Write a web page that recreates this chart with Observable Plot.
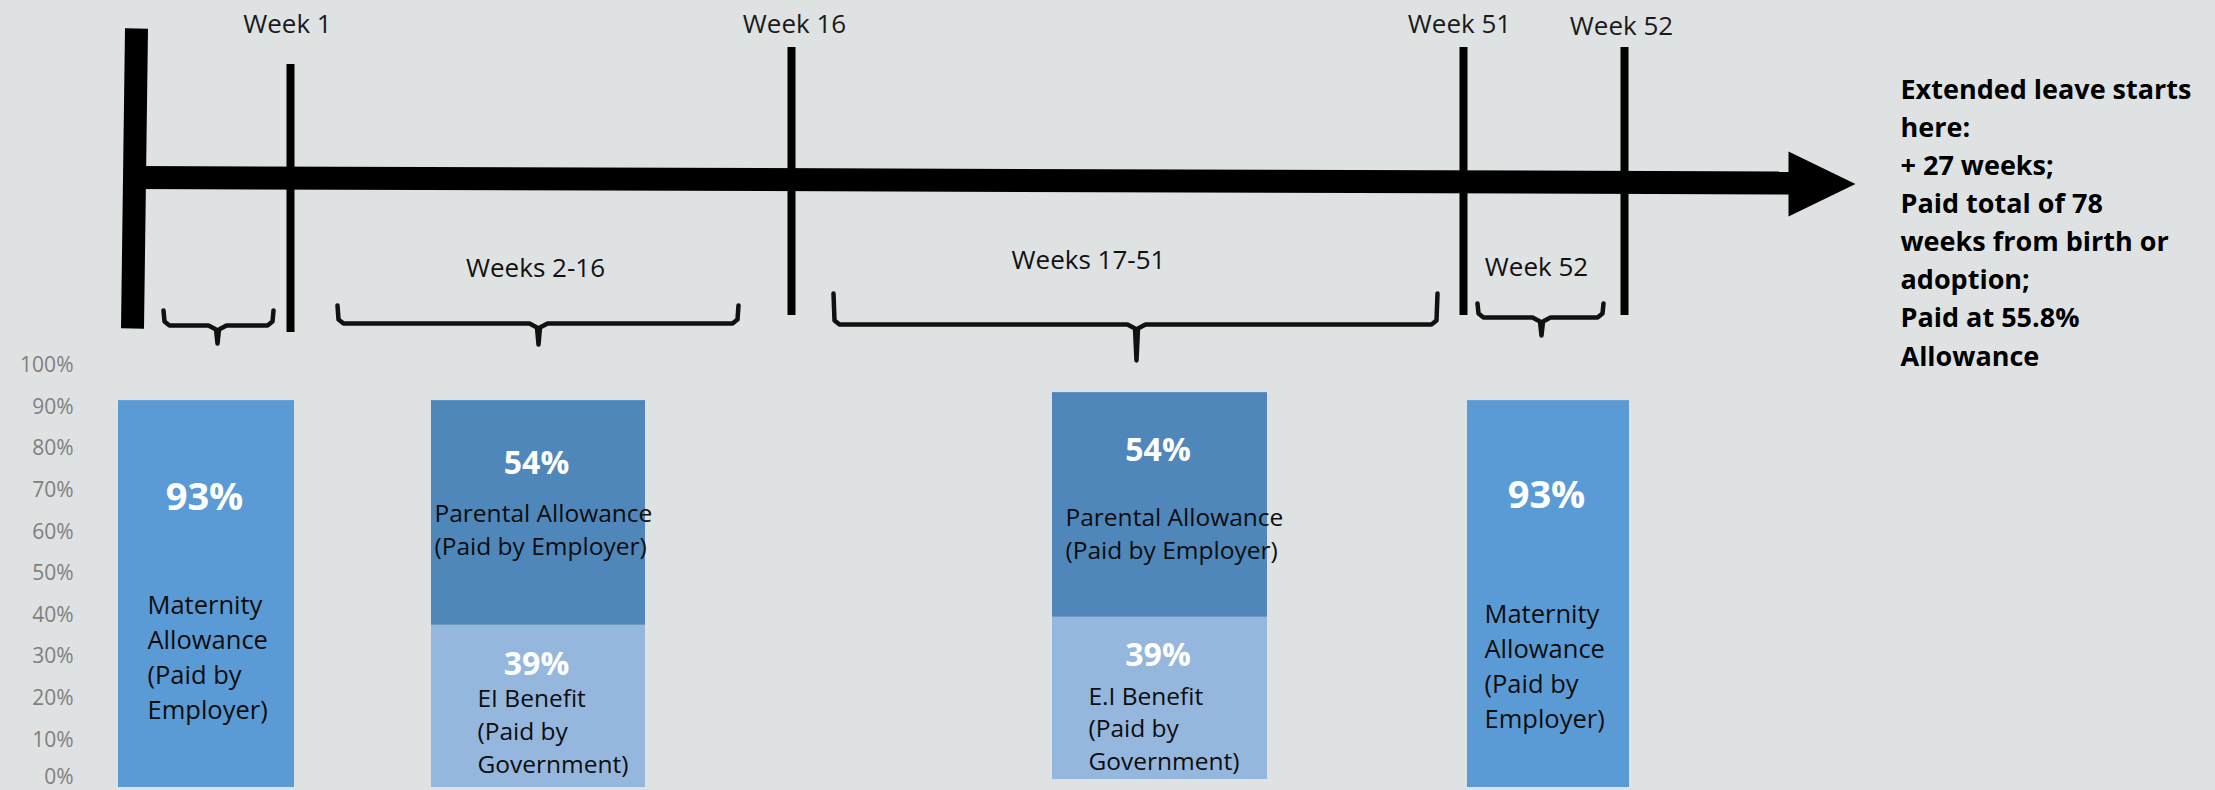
<!DOCTYPE html>
<html>
<head>
<meta charset="utf-8">
<script src="https://cdn.jsdelivr.net/npm/d3@7"></script>
<script src="https://cdn.jsdelivr.net/npm/@observablehq/plot@0.6"></script>
<style>
  html, body { margin: 0; padding: 0; background: #dfe2e3; }
  #chart { position: relative; width: 2215px; height: 790px; overflow: hidden; background: #dfe2e3; }
  #chart svg { position: absolute; left: 0; top: 0; background: transparent; font-family: "Open Sans", sans-serif; }
</style>
</head>
<body>
<div id="chart"></div>
<script>
// ---------------- DATA ----------------
const periods = ["Week 1", "Weeks 2-16", "Weeks 17-51", "Week 52"];
const employerKind = ["Maternity Allowance", "Parental Allowance", "Parental Allowance", "Maternity Allowance"];
const employerPct = [93, 54, 54, 93];
const governmentPct = [0, 39, 39, 0];
const employerText = [
  "Maternity\nAllowance\n(Paid by\nEmployer)",
  "Parental Allowance\n(Paid by Employer)",
  "Parental Allowance\n(Paid by Employer)",
  "Maternity\nAllowance\n(Paid by\nEmployer)"
];
const governmentText = ["", "EI Benefit\n(Paid by\nGovernment)", "E.I Benefit\n(Paid by\nGovernment)", ""];
const periodLabels = ["", "Weeks 2-16", "Weeks 17-51", "Week 52"];
const weekMarkers = ["Week 1", "Week 16", "Week 51", "Week 52"];
const yTickValues = [0, 10, 20, 30, 40, 50, 60, 70, 80, 90, 100];
const extendedNote = [
  "Extended leave starts", "here:", "+ 27 weeks;", "Paid total of 78",
  "weeks from birth or", "adoption;", "Paid at 55.8%", "Allowance"
];

// ---------------- LAYOUT (pixels / fractions) ----------------
const W = 2215, H = 790;
const kinds = ["Maternity Allowance", "Parental Allowance", "EI Benefit"];
const kindColors = ["#5b9bd5", "#4f87ba", "#95b7de"];
const barSpan = [[118, 294], [431, 645], [1052, 1267], [1467, 1629]];
const barLift = [0, 0, 8, 0];
const empValueFrac = [0.75, 0.72, 0.743, 0.755];
const govValueFrac = [0, 0.759, 0.764, 0];
const empTextFrac = [0.178, 0.311, 0.261, 0.153];
const govTextFrac = [0, 0.087, 0.056, 0];
const empTextDx = [29, 3, 13, 17];
const govTextDx = [0, 46, 36, 0];

const markerX = [290, 791, 1463, 1624];
const markerTop = [64, 47, 47, 47];
const markerBottom = [332, 315, 315, 315];
const markerLabelX = [287, 794, 1459, 1621];
const markerLabelBase = [32, 32, 32, 34];
const braceSpan = [[163, 273], [337, 738], [833, 1437], [1477, 1603]];
const braceTip = [217, 538, 1136, 1541];
const braceTop = [310, 305, 293, 303];
const braceLine = [325, 323, 324, 317];
const braceBottom = [343, 344, 360, 335];
const periodLabelX = [0, 535, 1088, 1536];
const periodLabelBase = [0, 276, 268, 275];

const chart = document.getElementById("chart");

// ---------------- TIMELINE DIAGRAM ----------------
const shaft = [{x: 135, y: 177}, {x: 1800, y: 182.5}];
const startBar = [{x: 136, y: 28}, {x: 132, y: 328}];
const arrowHead = [{x: 1788, y: 151}, {x: 1855, y: 183.5}, {x: 1788, y: 216}];

const braces = [];
braceSpan.forEach(([x0, x1], i) => {
  const t = braceTop[i], l = braceLine[i], b = braceBottom[i], c = braceTip[i];
  const pts = [[x0, t], [x0 + 1, l - 4], [x0 + 6, l], [c - 9, l], [c - 1.5, l + 4], [c, b],
               [c + 1.5, l + 4], [c + 9, l], [x1 - 6, l], [x1 - 1, l - 4], [x1, t]];
  pts.forEach(([x, y]) => braces.push({brace: periods[i], x, y}));
});

const markers = weekMarkers.map((m, i) => ({m, i}));
const periodRows = periods.map((p, i) => ({p, i})).filter(d => periodLabels[d.i]);

const diagram = Plot.plot({
  width: W, height: H,
  margin: 0,
  style: {background: "transparent", fontFamily: "'Open Sans', sans-serif"},
  x: {domain: [0, W], range: [0, W], axis: null},
  y: {domain: [0, H], range: [0, H], axis: null},
  marks: [
    Plot.line(shaft, {x: "x", y: "y", stroke: "#000", strokeWidth: 23, strokeLinecap: "butt"}),
    Plot.line(arrowHead, {x: "x", y: "y", fill: "#000", stroke: "none"}),
    Plot.line(startBar, {x: "x", y: "y", stroke: "#000", strokeWidth: 23, strokeLinecap: "butt"}),
    Plot.ruleX(markers, {x: d => markerX[d.i], y1: d => markerTop[d.i], y2: d => markerBottom[d.i], stroke: "#000", strokeWidth: 8}),
    Plot.text(markers, {x: d => markerLabelX[d.i], y: d => markerLabelBase[d.i], text: "m", lineAnchor: "bottom", fontSize: 26, fill: "#1a1a1a"}),
    Plot.line(braces, {x: "x", y: "y", z: "brace", stroke: "#111", strokeWidth: 4.5, strokeLinejoin: "round", strokeLinecap: "round"}),
    Plot.text(periodRows, {x: d => periodLabelX[d.i], y: d => periodLabelBase[d.i], text: d => periodLabels[d.i], lineAnchor: "bottom", fontSize: 26, fill: "#111"}),
    Plot.text([extendedNote.join("\n")], {x: 1900, y: 365, text: d => d, textAnchor: "start", lineAnchor: "bottom", lineHeight: 1.41, fontSize: 27, fontWeight: "bold", fill: "#000"})
  ]
});
chart.appendChild(diagram);

// ---------------- BAR CHART ----------------
const segments = [];
periods.forEach((p, i) => {
  if (governmentPct[i] > 0) {
    segments.push({i, period: p, kind: "EI Benefit", y1: 0, y2: governmentPct[i], value: governmentPct[i],
      text: governmentText[i], valueFrac: govValueFrac[i], textFrac: govTextFrac[i], textDx: govTextDx[i]});
  }
  segments.push({i, period: p, kind: employerKind[i], y1: governmentPct[i], y2: governmentPct[i] + employerPct[i], value: employerPct[i],
    text: employerText[i], valueFrac: empValueFrac[i], textFrac: empTextFrac[i], textDx: empTextDx[i]});
});

const barMarks = [];
segments.forEach(s => {
  const lift = -barLift[s.i];
  const big = s.kind === "Maternity Allowance";
  barMarks.push(
    Plot.rect([s], {x1: d => barSpan[d.i][0], x2: d => barSpan[d.i][1], y1: "y1", y2: "y2", fill: "kind", dy: lift}),
    Plot.text([s], {x: d => (barSpan[d.i][0] + barSpan[d.i][1]) / 2 - 2, y: d => d.y1 + d.valueFrac * (d.y2 - d.y1),
      text: d => `${d.value}%`, fill: "white", fontWeight: "bold", fontSize: big ? 38 : 32, dy: lift}),
    Plot.text([s], {x: d => barSpan[d.i][0] + d.textDx, y: d => d.y1 + d.textFrac * (d.y2 - d.y1),
      text: "text", textAnchor: "start", lineAnchor: "bottom", lineHeight: big ? 1.373 : 1.345,
      fontSize: big ? 25.5 : 24.5, fill: "#0d0d0d", dy: lift})
  );
});

const axisOpts = {anchor: "left", tickSize: 0, tickPadding: 0, tickFormat: d => `${d}%`, fontSize: 21, color: "#7f7f7f"};
const bars = Plot.plot({
  width: W, height: H,
  marginLeft: 73, marginTop: 0, marginRight: 0, marginBottom: 0,
  style: {background: "transparent", fontFamily: "'Open Sans', sans-serif"},
  x: {domain: [0, W], range: [0, W], axis: null},
  y: {domain: [0, 100], range: [787, 371], axis: null},
  color: {domain: kinds, range: kindColors},
  marks: [
    ...barMarks,
    Plot.axisY(yTickValues.filter(v => v > 0), {...axisOpts, dy: -6}),
    Plot.axisY(yTickValues.filter(v => v === 0), {...axisOpts, dy: -10})
  ]
});
chart.appendChild(bars);
</script>
</body>
</html>
